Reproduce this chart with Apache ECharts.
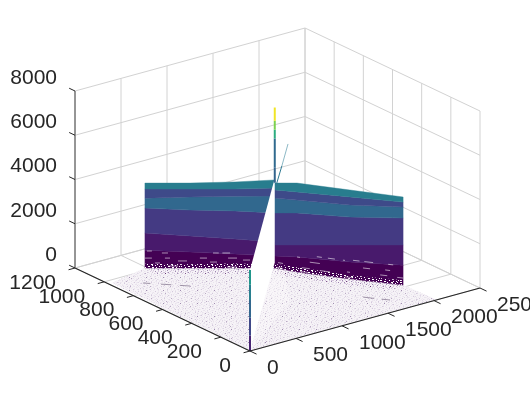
<!DOCTYPE html>
<html>
<head>
<meta charset="utf-8">
<style>
  html, body { margin: 0; padding: 0; background: #fff; overflow: hidden; }
  #main { width: 530px; height: 394px; }
</style>
<script src="https://cdn.jsdelivr.net/npm/echarts@6/dist/echarts.min.js"></script>
</head>
<body>
<div id="main"></div>
<script>
const xTicks = [0, 500, 1000, 1500, 2000, 2500]
const yTicks = [0, 200, 400, 600, 800, 1000, 1200]
const zTicks = [0, 2000, 4000, 6000, 8000]
const xMax = 2500, yMax = 1200, zMax = 8000

// foot of the wall (x, y on the floor)
const wallX = [481, 792, 1102, 1378, 1378, 1471, 1735, 2013]
const wallY = [1024, 911, 798, 698, 698, 606, 409, 220]
// upper edge of each colour band along the wall, bottom band first
const wallDark = [810, 720, 630, 540, 540, 680, 770, 900]
const wallPurple = [1580, 1450, 1310, 1180, 1040, 1220, 1540, 1810]
const wallIndigo = [2710, 2620, 2580, 2490, 2490, 2670, 2800, 3030]
const wallBlue = [3160, 3210, 3250, 3250, 3160, 3250, 3340, 3530]
const wallSlate = [3570, 3570, 3570, 3620, 3530, 3620, 3710, 3750]
const wallTeal = [3840, 3840, 3890, 3980, 3840, 4020, 4020, 3980]
const wallFringe = [190, 170, 210, 160, 180, 210, 170, 220]

// gaps in the lower wall: x start, x end, z
const wallGaps = [
  [495, 529, 770], [598, 640, 680], [481, 529, 450], [619, 654, 450], [709, 771, 320],
  [550, 585, 230], [640, 709, 90], [950, 990, 680], [1015, 1068, 680], [860, 909, 450], [1054, 1116, 450],
  [930, 978, 270], [1157, 1206, 360], [1047, 1116, 45], [1391, 1412, 270], [1471, 1486, 680],
  [1570, 1595, 810], [1625, 1660, 810], [1535, 1585, 520], [1495, 1535, 225], [1386, 1412, 45],
  [1585, 1635, 200], [1486, 1525, 45], [1700, 1710, 810], [1751, 1785, 860], [1810, 1856, 860], [1935, 1961, 860],
  [1919, 1945, 590], [1720, 1735, 300], [1803, 1840, 565], [1893, 1930, 340], [1710, 1751, 70],
  [1982, 2013, 316]
]

// floor outline and the denser strip in front of the wall
const floorX = [0, 36, 481, 792, 1102, 1378, 1471, 1735, 2013, 2030]
const floorY = [0, 970, 1024, 911, 798, 698, 606, 409, 220, 0]
const stripX = [447, 737, 1025, 1282, 1368, 1613, 1872]
const stripY = [952, 847, 742, 649, 564, 380, 205]
const floorDashes = [
  [250, 892, 295, 869], [358, 836, 420, 804], [470, 778, 531, 746],
  [1563, 211, 1620, 170], [1660, 145, 1706, 116], [1280, 720, 1296, 712]
]

// cut through the surface, the origin line, the peak and the thin ridge
const cutX = [0, 0, 1458, 1458]
const cutY = [0, 0, 750, 750]
const cutZ = [0, 3665, 3800, 0]
const paleX = [0, 1017, 1400, 1458]
const paleY = [0, 367, 650, 750]
const originZ = [0, 700, 1500, 2300, 3000, 3665]
const peakX = 1458, peakY = 750
const peakZ = [3600, 4300, 5600, 6000, 6400, 7000]
const peakLevel = [0.32, 0.34, 0.62, 0.8, 0.98]
const ridgeX = [1290, 1640, 1984]
const ridgeY = [640, 816, 991]
const ridgeZ = [3900, 3950, 4000]

const viridis = ['#440154', '#482878', '#3e4a89', '#31688e', '#26838f', '#1f9e89', '#35b779', '#6ece58', '#b5de2b', '#fde725']
const bandColors = ['#440154', '#481a6c', '#443a83', '#31688e', '#3e4a89', '#287d8e']
const gridColor = '#d2d2d2'
const axisColor = '#262626'
const font = '"Liberation Sans", Arial, sans-serif'

// orthographic view of the box, result is in the 530 x 394 plane of the hidden axes
function project(x, y, z) {
  return [
    250 + x * 230 / xMax - y * 175 / yMax,
    351 - x * 63 / xMax - y * 83 / yMax - z * 177 / zMax
  ]
}

function yOnWall(x) {
  for (let i = 1; i < wallX.length; i++) {
    if (x <= wallX[i] && wallX[i] > wallX[i - 1]) {
      return wallY[i - 1] + (wallY[i] - wallY[i - 1]) * (x - wallX[i - 1]) / (wallX[i] - wallX[i - 1])
    }
  }
  return wallY[wallY.length - 1]
}

function makeTile(rows, palette) {
  const canvas = document.createElement('canvas')
  canvas.width = rows[0].length
  canvas.height = rows.length
  const ctx = canvas.getContext('2d')
  rows.forEach((row, j) => {
    row.split('').forEach((c, i) => {
      if (palette[c]) {
        ctx.fillStyle = palette[c]
        ctx.fillRect(i, j, 1, 1)
      }
    })
  })
  return { image: canvas, repeat: 'repeat' }
}

const speckRows = [
  '. :  .   .  ..  :  .',
  '  .   #.   :   .    ',
  ' .  :    .   .  . : ',
  ':   .  .   .    .   ',
  '  .   :  .  :  .  . ',
  '.  .    .    .   :  ',
  '   : .    #  .  .   ',
  ' .    .  :  .    . .',
  '  .:   .   .  :     ',
  '.    .   .    .  .: ',
  '   .   :   . .    . ',
  ' :   .    .    :  . ',
  '.  .   .:   .    .  ',
  '  .  #   .    .  :  ',
  ' .  .  .   :   .    ',
  ':    .   .   .   . .',
  '  .    :   .  .:    ',
  '.   : .  .    .   . ',
  '  .    .   #.   .   ',
  ' .  .    :    .  :  '
]
const speckRows2 = [
  '  .     :      . ',
  '.     .    .     ',
  '    :     .    . ',
  ' .     .      :  ',
  '     .    #      ',
  '  :      .    .  ',
  '.    .      .    ',
  '        :       .',
  '   .  .     .    ',
  ' .       .     : ',
  '     :      .    ',
  '.       .       .',
  '   .       :     '
]
const gapRows = [
  '##     #   ##    #  ',
  '    #       #  #    ',
  ' #      ##         #',
  '     #      ##  #   ',
  '##       #        # ',
  '    ##       #  #   '
]
const floorTile = makeTile(speckRows, { '.': '#efeaf1', ':': '#e0d8e6', '#': '#b9a9c4' })
const floorTile2 = makeTile(speckRows2, { '.': '#e9e3ed', ':': '#d4c8dc', '#': '#a08db0' })
const stripTile = makeTile(speckRows, { '.': '#cbb9d5', ':': '#8a6ba1', '#': '#440154' })
const gapTile = makeTile(gapRows, { '#': '#ffffff' })

function path(api, pts) {
  return pts.map(p => api.coord(project(p[0], p[1], p[2])))
}

function band(lower, upper) {
  const pts = []
  wallX.forEach((x, i) => pts.push([x, wallY[i], upper[i]]))
  for (let i = wallX.length - 1; i >= 0; i--) pts.push([wallX[i], wallY[i], lower ? lower[i] : 0])
  return pts
}

// builds a custom series that draws one shape for each row
function shapes(rows, draw) {
  return {
    type: 'custom',
    coordinateSystem: 'cartesian2d',
    silent: true,
    animation: false,
    clip: false,
    data: rows.map((r, i) => [i]),
    renderItem: (params, api) => draw(rows[params.dataIndex], api)
  }
}

function fillShape(fill, opacity) {
  return (pts, api) => ({
    type: 'polygon',
    shape: { points: path(api, pts) },
    style: { fill: fill, opacity: opacity === undefined ? 1 : opacity }
  })
}

function lineShape(pts, api, color, width, opacity) {
  return {
    type: 'polyline',
    shape: { points: path(api, pts) },
    style: { fill: null, stroke: color, lineWidth: width, lineCap: 'butt', opacity: opacity === undefined ? 1 : opacity }
  }
}

function labelShape(tick, p, dx, dy, align, api) {
  const c = api.coord(project(p[0], p[1], p[2]))
  return {
    type: 'text',
    style: {
      x: c[0] + dx,
      y: c[1] + dy,
      text: String(tick),
      textAlign: align,
      textVerticalAlign: 'middle',
      fontSize: 21,
      fontFamily: font,
      fill: axisColor
    }
  }
}

const gridLines = []
xTicks.forEach(x => gridLines.push([[x, 0, 0], [x, yMax, 0], [x, yMax, zMax]]))
yTicks.forEach(y => gridLines.push([[0, y, 0], [xMax, y, 0], [xMax, y, zMax]]))
zTicks.forEach(z => gridLines.push([[0, yMax, z], [xMax, yMax, z], [xMax, 0, z]]))

const wallBands = [
  [null, wallDark], [wallDark, wallPurple], [wallPurple, wallIndigo],
  [wallIndigo, wallBlue], [wallBlue, wallSlate], [wallSlate, wallTeal]
]

const floorPoints = floorX.map((x, i) => [x, floorY[i], 0])

const option = {
  animation: false,
  backgroundColor: '#ffffff',
  grid: { left: 0, right: 0, top: 0, bottom: 0 },
  xAxis: { type: 'value', min: 0, max: 530, show: false },
  yAxis: { type: 'value', min: 0, max: 394, inverse: true, show: false },
  series: [
    shapes(gridLines, (pts, api) => lineShape(pts, api, gridColor, 1)),

    // floor
    shapes([floorPoints], fillShape('#f6f3f7')),
    shapes([floorPoints], fillShape(floorTile)),
    shapes([floorPoints], fillShape(floorTile2)),
    shapes([[
      ...wallX.filter((x, i) => i !== 4).map((x, i) => [x, wallY.filter((y, k) => k !== 4)[i], 0]),
      ...stripX.map((x, i) => [x, stripY[i], 0]).reverse()
    ]], fillShape(stripTile, 0.75)),
    shapes(floorDashes, (d, api) => lineShape([[d[0], d[1], 0], [d[2], d[3], 0]], api, '#8a7c94', 0.8)),
    shapes([paleX.map((x, i) => [x, paleY[i], 0])], fillShape('#ffffff', 0.3)),

    // wall
    shapes(wallBands, (b, api) => {
      const color = bandColors[wallBands.indexOf(b)]
      return {
        type: 'polygon',
        shape: { points: path(api, band(b[0], b[1])) },
        style: { fill: color, stroke: color, lineWidth: 0.4 }
      }
    }),
    shapes([band(null, wallFringe)], fillShape(gapTile)),
    shapes(wallGaps, (g, api) => lineShape(
      [[g[0], yOnWall(g[0]), g[2]], [g[1], yOnWall(g[1]), g[2]]], api, '#ffffff', 0.8, 0.7
    )),

    // cut and lines standing on it
    shapes([cutX.map((x, i) => [x, cutY[i], cutZ[i]])], fillShape('#ffffff')),
    shapes(originZ.slice(1), (z, api) => {
      const k = originZ.indexOf(z)
      return lineShape([[0, 0, originZ[k - 1]], [0, 0, z]], api, echarts.color.lerp(z / 7000, viridis), 2)
    }),
    shapes(ridgeX.slice(1), (x, api) => {
      const k = ridgeX.indexOf(x)
      return lineShape(
        [[ridgeX[k - 1], ridgeY[k - 1], ridgeZ[k - 1]], [x, ridgeY[k], ridgeZ[k]]],
        api, k === 1 ? '#2f7a92' : '#8db9c6', 1
      )
    }),
    shapes(peakLevel, (t, api) => {
      const k = peakLevel.indexOf(t)
      return lineShape(
        [[peakX, peakY, peakZ[k]], [peakX, peakY, peakZ[k + 1]]],
        api, echarts.color.lerp(t, viridis), 2
      )
    }),

    // axes and ticks
    shapes([[[0, 0, 0], [xMax, 0, 0]], [[0, 0, 0], [0, yMax, 0]]], (pts, api) => lineShape(pts, api, axisColor, 1.2)),
    shapes([[[0, yMax, 0], [0, yMax, zMax]]], (pts, api) => lineShape(pts, api, '#7a7a7a', 1.5)),
    shapes(xTicks, (x, api) => lineShape([[x, 0, 0], [x, -45, 0]], api, axisColor, 1)),
    shapes(yTicks, (y, api) => lineShape([[0, y, 0], [-70, y, 0]], api, axisColor, 1)),
    shapes(zTicks, (z, api) => lineShape([[0, yMax, z], [0, yMax + 40, z]], api, axisColor, 1)),
    shapes(xTicks, (x, api) => labelShape(x, [x, 0, 0], 17, 17, 'left', api)),
    shapes(yTicks, (y, api) => labelShape(y, [0, y, 0], -19, 15, 'right', api)),
    shapes(zTicks, (z, api) => labelShape(z, [0, yMax, z], -18, -13, 'right', api))
  ]
}

const myChart = echarts.init(document.getElementById('main'), null, { renderer: 'canvas' })
myChart.setOption(option)
</script>
</body>
</html>
